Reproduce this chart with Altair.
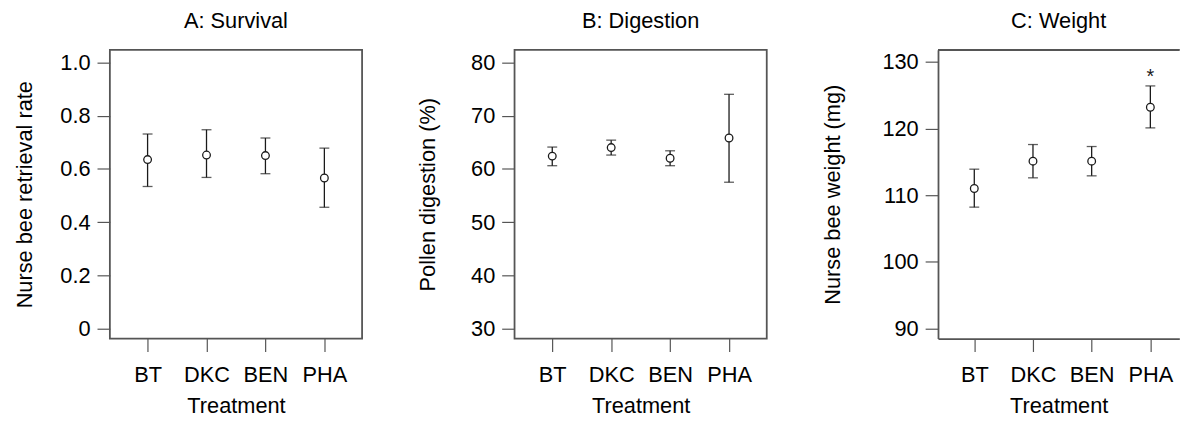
import altair as alt
import pandas as pd

treat = ["BT", "DKC", "BEN", "PHA"]

surv_mean = [0.635, 0.652, 0.650, 0.566]
surv_lo = [0.534, 0.568, 0.582, 0.456]
surv_hi = [0.731, 0.747, 0.716, 0.678]

dig_mean = [62.4, 64.0, 62.0, 65.8]
dig_lo = [60.6, 62.6, 60.6, 57.5]
dig_hi = [64.1, 65.4, 63.4, 74.0]

wt_mean = [111.0, 115.1, 115.1, 123.2]
wt_lo = [108.2, 112.6, 112.9, 120.1]
wt_hi = [113.9, 117.6, 117.3, 126.4]

star_treat = ["PHA"]
star_y = [128.6]
star_text = ["*"]

FONT = "Liberation Sans"
FRAME = "#555555"
INK = "#1a1a1a"


def panel(title, ytitle, mean, lo, hi, domain, ticks, labexpr, tpad,
          width=255, xpad=0.64, xalign=0.5, framed=True, star=False):
    df = pd.DataFrame({"t": treat, "mean": mean, "lo": lo, "hi": hi})
    xenc = alt.X("t:N", sort=treat,
                 scale=alt.Scale(type="point", padding=xpad, align=xalign),
                 axis=alt.Axis(title="Treatment", labelAngle=0, tickSize=13,
                               labelPadding=13, titlePadding=11,
                               domain=not framed, domainColor=FRAME,
                               domainWidth=1.8, tickColor=FRAME,
                               tickWidth=1.2, labelFontSize=22,
                               titleFontSize=22, titleFontWeight="normal",
                               labelColor="black", titleColor="black"))
    yscale = alt.Scale(domain=domain, nice=False, zero=False)
    yaxis = alt.Axis(title=ytitle, values=ticks, labelExpr=labexpr,
                     tickSize=13, labelPadding=7, titlePadding=tpad,
                     grid=False, domain=not framed, domainColor=FRAME,
                     domainWidth=1.8, tickColor=FRAME, tickWidth=1.2,
                     labelFontSize=22, titleFontSize=22,
                     titleFontWeight="normal", labelColor="black",
                     titleColor="black")
    base = alt.Chart(df).encode(x=xenc)
    rule = base.mark_rule(color=INK, strokeWidth=1.3).encode(
        y=alt.Y("lo:Q", scale=yscale, axis=yaxis), y2="hi:Q")
    cap_hi = base.mark_tick(color=INK, size=10, thickness=1.3).encode(
        y=alt.Y("hi:Q", scale=yscale, axis=yaxis))
    cap_lo = base.mark_tick(color=INK, size=10, thickness=1.3).encode(
        y=alt.Y("lo:Q", scale=yscale, axis=yaxis))
    pts = base.mark_circle(fill="white", stroke=INK, strokeWidth=1.3,
                           size=60, opacity=1).encode(
        y=alt.Y("mean:Q", scale=yscale, axis=yaxis))
    layers = [rule, cap_hi, cap_lo, pts]
    if star:
        sdf = pd.DataFrame({"t": star_treat, "y": star_y, "s": star_text})
        layers.append(
            alt.Chart(sdf).mark_text(fontSize=20, font=FONT, color=INK,
                                     baseline="middle", dy=6).encode(
                x=xenc, y=alt.Y("y:Q", scale=yscale, axis=yaxis),
                text="s:N"))
    if not framed:
        layers.append(
            alt.Chart(df).mark_rule(color=FRAME, strokeWidth=1.8).encode(
                x=alt.value(0), x2=alt.value(width), y=alt.value(0)))
    props = dict(
        width=width, height=292,
        title=alt.TitleParams(title, fontSize=22, fontWeight="normal",
                              font=FONT, color="black", offset=-5.4,
                              baseline="bottom"),
    )
    if not framed:
        props["view"] = alt.ViewBackground(stroke="transparent")
    return alt.layer(*layers).properties(**props)


A = panel("A: Survival", "Nurse bee retrieval rate", surv_mean, surv_lo,
          surv_hi, [-0.037, 1.047], [0, 0.2, 0.4, 0.6, 0.8, 1.0],
          "datum.value == 0 ? '0' : format(datum.value, '.1f')", 23.7)
B = panel("B: Digestion", "Pollen digestion (%)", dig_mean, dig_lo, dig_hi,
          [28.15, 82.35], [30, 40, 50, 60, 70, 80], "format(datum.value, 'd')",
          31.45)
C = panel("C: Weight", "Nurse bee weight (mg)", wt_mean, wt_lo, wt_hi,
          [88.46, 131.82], [90, 100, 110, 120, 130], "format(datum.value, 'd')",
          38.25, width=244, xpad=0.556, xalign=0.556, framed=False, star=True)

chart = alt.hconcat(A, B, C, spacing=53.15).properties(
    padding={"left": 4, "top": -2, "right": 0, "bottom": 0}
).configure(font=FONT).configure_view(stroke=FRAME, strokeWidth=1.8)

chart.save("out.html", embed_options={"renderer": "svg", "actions": False})
